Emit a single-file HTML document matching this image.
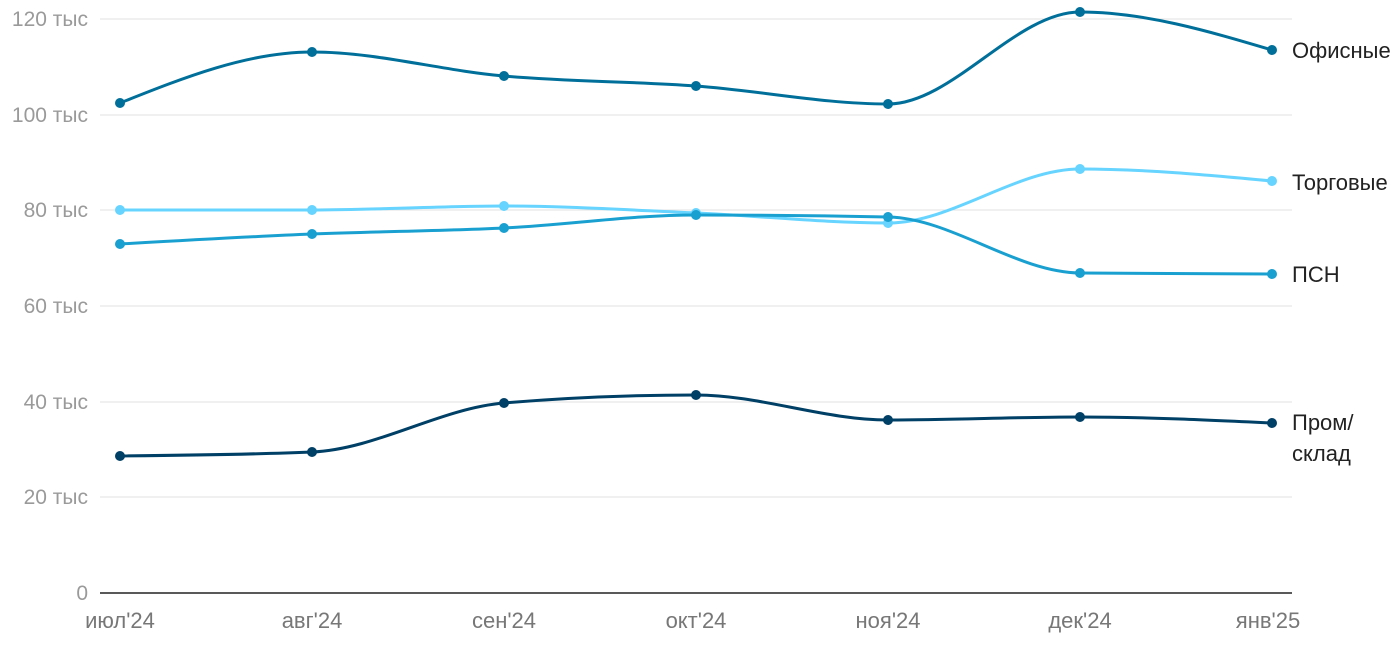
<!DOCTYPE html>
<html><head><meta charset="utf-8"><style>
html,body{margin:0;padding:0;background:#fff;width:1400px;height:650px;overflow:hidden}
svg text{font-family:"Liberation Sans",sans-serif}
</style></head><body>
<svg id="s" width="1400" height="650" xmlns="http://www.w3.org/2000/svg">
<g stroke="#e0e0e0" stroke-width="1">
<line x1="100" x2="1292" y1="19" y2="19"/><line x1="100" x2="1292" y1="115" y2="115"/>
<line x1="100" x2="1292" y1="210" y2="210"/><line x1="100" x2="1292" y1="306" y2="306"/>
<line x1="100" x2="1292" y1="402" y2="402"/><line x1="100" x2="1292" y1="497" y2="497"/>
</g>
<line x1="100" x2="1292" y1="593" y2="593" stroke="#222" stroke-width="1.5"/>
<g fill="#9a9a9a" font-size="21" text-anchor="end">
<text x="88" y="26">120 тыс</text><text x="88" y="122">100 тыс</text>
<text x="88" y="217">80 тыс</text><text x="88" y="313">60 тыс</text>
<text x="88" y="409">40 тыс</text><text x="88" y="504">20 тыс</text>
<text x="88" y="600">0</text>
</g>
<g fill="#777" font-size="22" text-anchor="middle">
<text x="120" y="628">июл'24</text><text x="312" y="628">авг'24</text><text x="504" y="628">сен'24</text>
<text x="696" y="628">окт'24</text><text x="888" y="628">ноя'24</text><text x="1080" y="628">дек'24</text>
<text x="1268" y="628">янв'25</text>
</g>
<g id="lines"></g>
<g fill="#222" font-size="22">
<text x="1292" y="58">Офисные</text><text x="1292" y="190">Торговые</text>
<text x="1292" y="282">ПСН</text><text x="1292" y="430">Пром/</text><text x="1292" y="461">склад</text>
</g>
</svg>
<script>
var xs=[120,312,504,696,888,1080,1272];
var series=[
["#66d4ff",[210,210,206,213,223,169,181]],
["#1aa0d0",[244,234,228,215,217,273,274]],
["#006f9a",[103,52,76,86,104,12,50]],
["#003f66",[456,452,403,395,420,417,423]]];
function sign(x){return x<0?-1:1}
function path(ys){
 var n=ys.length,t=[],s=[];
 for(var i=0;i<n-1;i++)s.push((ys[i+1]-ys[i])/(xs[i+1]-xs[i]));
 for(var i=1;i<n-1;i++){var h0=xs[i]-xs[i-1],h1=xs[i+1]-xs[i],s0=s[i-1],s1=s[i],p=(s0*h1+s1*h0)/(h0+h1);
  t[i]=(sign(s0)+sign(s1))*Math.min(Math.abs(s0),Math.abs(s1),0.5*Math.abs(p))||0;}
 t[0]=(3*s[0]-t[1])/2; t[n-1]=(3*s[n-2]-t[n-2])/2;
 var d="M"+xs[0]+","+ys[0];
 for(var i=0;i<n-1;i++){var dx=(xs[i+1]-xs[i])/3;
  d+="C"+(xs[i]+dx)+","+(ys[i]+dx*t[i])+" "+(xs[i+1]-dx)+","+(ys[i+1]-dx*t[i+1])+" "+xs[i+1]+","+ys[i+1];}
 return d;}
var g=document.getElementById("lines"),h="";
series.forEach(function(se){
 h+='<path d="'+path(se[1])+'" fill="none" stroke="'+se[0]+'" stroke-width="3"/>';
 se[1].forEach(function(y,i){h+='<circle cx="'+xs[i]+'" cy="'+y+'" r="5" fill="'+se[0]+'"/>';});
});
g.innerHTML=h;
</script>
</body></html>
